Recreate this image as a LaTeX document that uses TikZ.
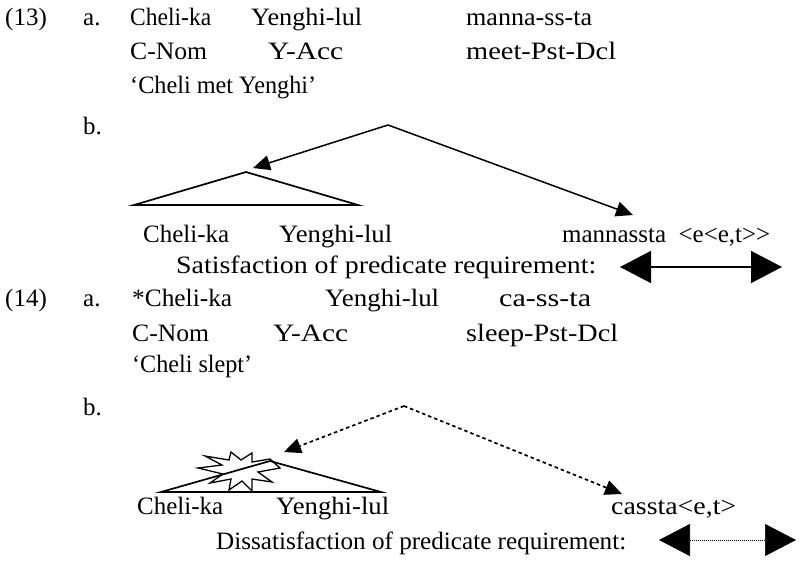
\documentclass[tikz,border=0pt]{standalone}
\usepackage{fontspec}
\setmainfont{Liberation Serif}
\usetikzlibrary{arrows.meta}
\newcommand{\fitto}[2]{\resizebox{#1pt}{\height}{#2}}
\begin{document}
\begin{tikzpicture}[x=1pt,y=-1pt,
  txt/.style={anchor=base west,inner sep=0pt,font=\fontsize{25}{30}\selectfont},
  tree/.style={line width=1.7pt},
  treearrow/.style={line width=1.5pt,-{Triangle[length=17pt,width=15pt]}},
  dasharrow/.style={line width=1.7pt,dash pattern=on 3.5pt off 3pt,-{Triangle[length=17pt,width=15pt]}},
  bigarrow/.style={line width=1.4pt,{Triangle[length=31pt,width=32pt]}-{Triangle[length=31pt,width=32pt]}},
  bigdotarrow/.style={line width=0.7pt,dash pattern=on 1pt off 1pt,{Triangle[length=31pt,width=32pt]}-{Triangle[length=31pt,width=32pt]}}]
\useasboundingbox (0,0) rectangle (803,566);
% ---------- (13) ----------
\node[txt] (n13) at (5,25) {(13)};
\node[txt] (a13) at (83,25) {a.};
\node[txt] (w13a) at (130,25) {\fitto{81}{Cheli-ka}};
\node[txt] (w13b) at (251,25) {\fitto{111}{Yenghi-lul}};
\node[txt] (w13c) at (466,25) {\fitto{126}{manna-ss-ta}};
\node[txt] (g13a) at (130,59) {\fitto{77}{C-Nom}};
\node[txt] (g13b) at (268,59) {\fitto{75}{Y-Acc}};
\node[txt] (g13c) at (466,59) {\fitto{150}{meet-Pst-Dcl}};
\node[txt] (t13) at (130,93) {\fitto{186}{‘Cheli met Yenghi’}};
\node[txt] (b13) at (83,134) {b.};
\coordinate (top13) at (388,125);
\coordinate (tipL13) at (253,168);
\coordinate (tipR13) at (633,215);
\coordinate (apex13) at (246,172);
\coordinate (bl13) at (134,205);
\coordinate (br13) at (358,205);
\draw[treearrow] (top13) -- (tipL13);
\draw[treearrow] (top13) -- (tipR13);
\draw[tree,line join=miter] (bl13) -- (apex13) -- (br13) -- cycle;
\node[txt] (c13a) at (143,242) {\fitto{86}{Cheli-ka}};
\node[txt] (c13b) at (279,242) {\fitto{113}{Yenghi-lul}};
\node[txt] (c13c) at (562,242) {\fitto{208}{mannassta \ <e<e,t>{}>}};
\node[txt] (s13) at (176,273) {\fitto{420}{Satisfaction of predicate requirement:}};
\coordinate (dL13) at (620,267);
\coordinate (dR13) at (782,267);
\draw[bigarrow] (dL13) -- (dR13);
% ---------- (14) ----------
\node[txt] (n14) at (5,306) {(14)};
\node[txt] (a14) at (83,306) {a.};
\node[txt] (w14a) at (132,306) {\fitto{100}{*Cheli-ka}};
\node[txt] (w14b) at (325,306) {\fitto{114}{Yenghi-lul}};
\node[txt] (w14c) at (499,306) {\fitto{92}{ca-ss-ta}};
\node[txt] (g14a) at (132,341) {\fitto{77}{C-Nom}};
\node[txt] (g14b) at (273,341) {\fitto{75}{Y-Acc}};
\node[txt] (g14c) at (466,341) {\fitto{152}{sleep-Pst-Dcl}};
\node[txt] (t14) at (132,372) {\fitto{120}{‘Cheli slept’}};
\node[txt] (b14) at (83,415) {b.};
\coordinate (top14) at (404,406);
\coordinate (tipL14) at (284,452);
\coordinate (tipR14) at (622,494);
\coordinate (apex14) at (270,461);
\coordinate (bl14) at (161,492);
\coordinate (br14) at (381,492);
\draw[dasharrow] (top14) -- (tipL14);
\draw[dasharrow] (top14) -- (tipR14);
% explosion star
\draw[line width=1.3pt,line join=miter] (280,468) -- (258,472) -- (272,482) -- (252,479) -- (252,491) -- (242,481) -- (229,490) -- (231,479) -- (210,483) -- (223,474) -- (198,468) -- (222,465) -- (205,456) -- (229,460) -- (231,452) -- (241,460) -- (252,453) -- (252,462) -- (270,459) -- cycle;
\draw[tree,line join=miter] (bl14) -- (apex14) -- (br14) -- cycle;
\node[txt] (c14a) at (137,514) {\fitto{86}{Cheli-ka}};
\node[txt] (c14b) at (276,514) {\fitto{113}{Yenghi-lul}};
\node[txt] (c14c) at (611,514) {\fitto{125}{cassta<e,t>}};
\node[txt] (s14) at (216,549) {\fitto{410}{Dissatisfaction of predicate requirement:}};
\coordinate (dL14) at (659,540);
\coordinate (dR14) at (796,540);
\draw[bigdotarrow] (dL14) -- (dR14);
\end{tikzpicture}
\end{document}
